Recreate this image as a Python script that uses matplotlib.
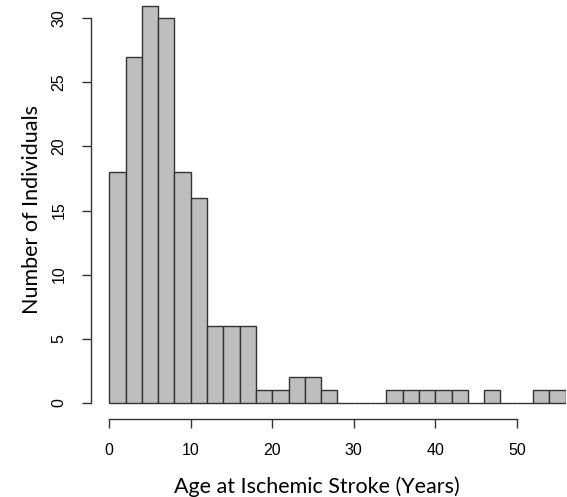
#Histogram of age at ischemic stroke (R base-graphics look)

import matplotlib.pyplot as plt
import numpy as np

# bin edges every 2 years, counts
bin_left = np.arange(0, 56, 2)
counts = [18, 27, 31, 30, 18, 16, 6, 6, 6, 1, 1, 2, 2, 1, 0, 0, 0,
          1, 1, 1, 1, 1, 0, 1, 0, 0, 1, 1]
xticks = [0, 10, 20, 30, 40, 50]
yticks = [0, 5, 10, 15, 20, 25, 30]

W, H = 567, 497
fig = plt.figure(figsize=(W/100, H/100), dpi=100)
ax = fig.add_axes([91/W, (H-418.6)/H, (566-91)/W, 418.6/H])

ax.bar(bin_left, counts, width=2, align='edge', color='#bebebe',
       edgecolor='#333333', linewidth=1)

ax.set_xlim(-2.245, 56.04)
ax.set_ylim(-1.24, 31.43)

for s in ['top', 'right']:
    ax.spines[s].set_visible(False)
ax.spines['left'].set_bounds(0, 30)
ax.spines['bottom'].set_bounds(0, 50)
for s in ['left', 'bottom']:
    ax.spines[s].set_color('#333333')
    ax.spines[s].set_linewidth(1)

ax.set_xticks(xticks)
ax.set_yticks(yticks)
tickfont = dict(family='Liberation Sans', size=11.5)
ax.set_xticklabels([str(t) for t in xticks], **tickfont)
ax.set_yticklabels([str(t) for t in yticks], rotation=90, va='center', **tickfont)
ax.tick_params(axis='x', length=6.5, width=1, color='#333333', pad=11)
ax.tick_params(axis='y', length=6.5, width=1, color='#333333', pad=11)

labfont = dict(family='Lato', size=15.5)
ax.set_xlabel('Age at Ischemic Stroke (Years)', labelpad=13, **labfont)
ax.xaxis.label.set_x(0.476)
ax.set_ylabel('Number of Individuals', labelpad=7, **labfont)

plt.savefig('out.png', dpi=100)
